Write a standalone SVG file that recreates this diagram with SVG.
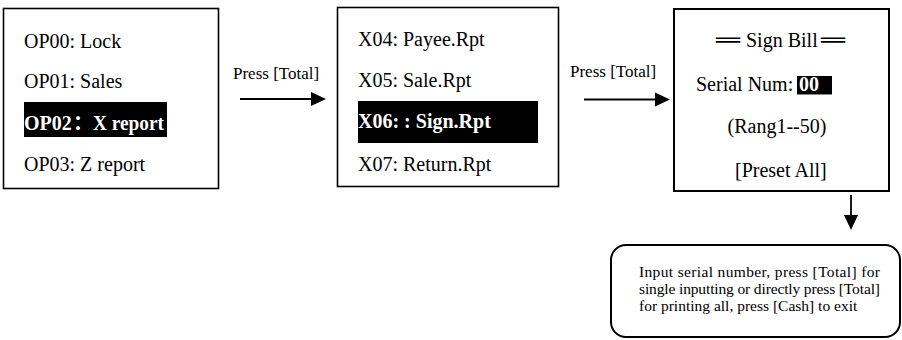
<svg xmlns="http://www.w3.org/2000/svg" width="902" height="340" viewBox="0 0 902 340">
<style>
.box{fill:#fff;stroke:#000;stroke-width:1.6}
.box2{fill:#fff;stroke:#000;stroke-width:2}
.t{font-family:"Liberation Serif","Times New Roman",serif;font-size:20px;fill:#000}
.tb{font-family:"Liberation Serif","Times New Roman","Noto Sans CJK SC",serif;font-size:20px;font-weight:bold;fill:#fff}
.lbl{font-family:"Liberation Serif","Times New Roman",serif;font-size:17px;fill:#000}
.note{font-family:"Liberation Serif","Times New Roman",serif;font-size:15.5px;fill:#000}
.hl{fill:#000}
.ln{stroke:#000;stroke-width:1.8;fill:none}
.dbl{font-family:"DejaVu Sans",sans-serif}
</style>
<rect width="902" height="340" fill="#fff"/>
<g id="node-op">
<rect class="box" x="3.5" y="8.5" width="215" height="180"/>
<text class="t" x="24" y="48">OP00: Lock</text>
<text class="t" x="24" y="88">OP01: Sales</text>
<rect class="hl" x="24" y="102" width="143" height="35"/>
<text class="tb" y="130"><tspan x="24">OP02</tspan><tspan x="73">：</tspan><tspan x="93" textLength="71" lengthAdjust="spacingAndGlyphs">X report</tspan></text>
<text class="t" x="24" y="171">OP03: Z report</text>
</g>
<g id="node-x">
<rect class="box" x="337.5" y="7.5" width="221" height="179"/>
<text class="t" x="358" y="46">X04: Payee.Rpt</text>
<text class="t" x="358" y="87">X05: Sale.Rpt</text>
<rect class="hl" x="358" y="101" width="180" height="42"/>
<text class="tb" x="358" y="128">X06: : Sign.Rpt</text>
<text class="t" x="358" y="171">X07: Return.Rpt</text>
</g>
<g id="node-sign">
<rect class="box2" x="674" y="9" width="215" height="182"/>
<text class="t" y="47"><tspan class="dbl" x="716">══</tspan><tspan x="746">Sign Bill</tspan><tspan class="dbl" x="821">══</tspan></text>
<text class="t" x="696" y="91">Serial Num: </text>
<rect class="hl" x="797" y="76" width="35" height="18"/>
<line x1="797" y1="94.5" x2="832" y2="94.5" stroke="#888" stroke-width="1"/>
<text class="tb" x="799" y="91">00</text>
<text class="t" x="777" y="133" text-anchor="middle">(Rang1--50)</text>
<text class="t" x="735" y="177">[Preset All]</text>
</g>
<g id="node-note">
<rect class="box2" x="611" y="245" width="289" height="92" rx="15" ry="15"/>
<text class="note" x="639" y="277" textLength="241" lengthAdjust="spacing">Input serial number, press [Total] for</text>
<text class="note" x="639" y="294" textLength="241" lengthAdjust="spacing">single inputting or directly press [Total]</text>
<text class="note" x="639" y="311">for printing all, press [Cash] to exit</text>
</g>
<g id="connectors">
<text class="lbl" x="233" y="79">Press [Total]</text>
<line class="ln" x1="240" y1="99" x2="313" y2="99"/>
<polygon points="311,92 326,99 311,106" fill="#000"/>
<text class="lbl" x="570" y="77">Press [Total]</text>
<line class="ln" x1="584" y1="99.5" x2="657" y2="99.5"/>
<polygon points="655,92.5 670,99.5 655,106.5" fill="#000"/>
<line class="ln" x1="851" y1="195" x2="851" y2="217"/>
<polygon points="844,215 851,230 858,215" fill="#000"/>
</g>
</svg>
